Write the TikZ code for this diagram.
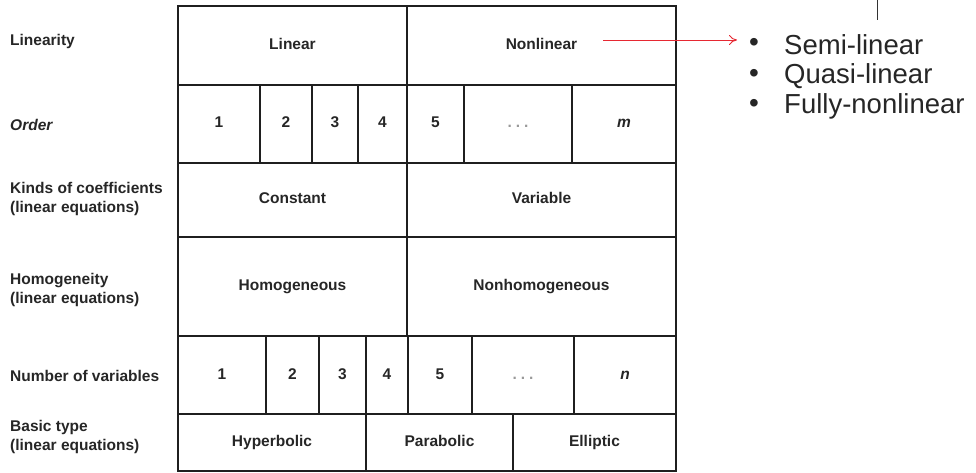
\documentclass[tikz,border=0pt]{standalone}
\usepackage{fontspec}
\setmainfont{Liberation Sans}
\usetikzlibrary{arrows.meta}
\newcommand\tabfont{\fontsize{15.5}{19}\selectfont\bfseries}
\newcommand\mycell[6]{\node[cell,minimum width={(#4-#2)*1pt},minimum height={(#5-#3)*1pt}] (#1) at ({(#2+#4)/2},{(#3+#5)/2}) {#6};}
\newcommand\mydots{{\color{black!40}.\hspace{4pt}.\hspace{4pt}.}}
\begin{document}
\begin{tikzpicture}[x=1pt,y=-1pt,
  cell/.style={draw=black!88, line width=1.5pt, inner sep=0pt, font=\tabfont, text=black!85, text height=11pt, text depth=3pt},
  lab/.style={anchor=west, inner sep=0pt, align=left, font=\tabfont, text=black!85},
  bul/.style={inner sep=0pt, font=\fontsize{28}{30}\selectfont, text=black!85},
  item/.style={anchor=west, inner sep=0pt, font=\fontsize{27.5}{30}\selectfont, text=black!85},
  redarrow/.style={draw={rgb,255:red,230;green,40;blue,50}, line width=0.9pt, -{To[length=8pt,width=10pt]}}]
\useasboundingbox (0,0) rectangle (976,473);
% row 1
\mycell{lin}{178}{6}{407}{85}{Linear}
\mycell{nonlin}{407}{6}{676}{85}{Nonlinear}
% row 2
\mycell{o1}{178}{85}{260}{163}{1}
\mycell{o2}{260}{85}{312}{163}{2}
\mycell{o3}{312}{85}{358}{163}{3}
\mycell{o4}{358}{85}{407}{163}{4}
\mycell{o5}{407}{85}{464}{163}{5}
\mycell{odots}{464}{85}{572}{163}{\mydots}
\mycell{om}{572}{85}{676}{163}{\itshape m}
% row 3
\mycell{const}{178}{163}{407}{237}{Constant}
\mycell{var}{407}{163}{676}{237}{Variable}
% row 4
\mycell{hom}{178}{237}{407}{336}{Homogeneous}
\mycell{nonhom}{407}{237}{676}{336}{Nonhomogeneous}
% row 5
\mycell{v1}{178}{336}{266}{414}{1}
\mycell{v2}{266}{336}{319}{414}{2}
\mycell{v3}{319}{336}{366}{414}{3}
\mycell{v4}{366}{336}{408}{414}{4}
\mycell{v5}{408}{336}{472}{414}{5}
\mycell{vdots}{472}{336}{574}{414}{\mydots}
\mycell{vn}{574}{336}{676}{414}{\itshape n}
% row 6
\mycell{hyp}{178}{414}{366}{471}{Hyperbolic}
\mycell{par}{366}{414}{513}{471}{Parabolic}
\mycell{ell}{513}{414}{676}{471}{Elliptic}
% left labels
\node[lab] (l1) at (10,41) {Linearity};
\node[lab] (l2) at (10,125) {\itshape Order};
\node[lab] (l3) at (10,199) {Kinds of coefficients\\(linear equations)};
\node[lab] (l4) at (10,290) {Homogeneity\\(linear equations)};
\node[lab] (l5) at (10,376) {Number of variables};
\node[lab] (l6) at (10,437) {Basic type\\(linear equations)};
% right list
\node[bul] (b1) at (754,45) {•};
\node[bul] (b2) at (754,76) {•};
\node[bul] (b3) at (754,106) {•};
\node[item] (t1) at (784,45) {Semi-linear};
\node[item] (t2) at (784,76) {Quasi-linear};
\node[item] (t3) at (784,106) {Fully-nonlinear};
% arrow
\coordinate (as) at (603,40);
\coordinate (ae) at (737,40);
\draw[redarrow] (as) -- (ae);
% small top line
\coordinate (tl1) at (877,0);
\coordinate (tl2) at (877,20);
\draw[black!80, line width=0.8pt] (tl1) -- (tl2);
\end{tikzpicture}
\end{document}
